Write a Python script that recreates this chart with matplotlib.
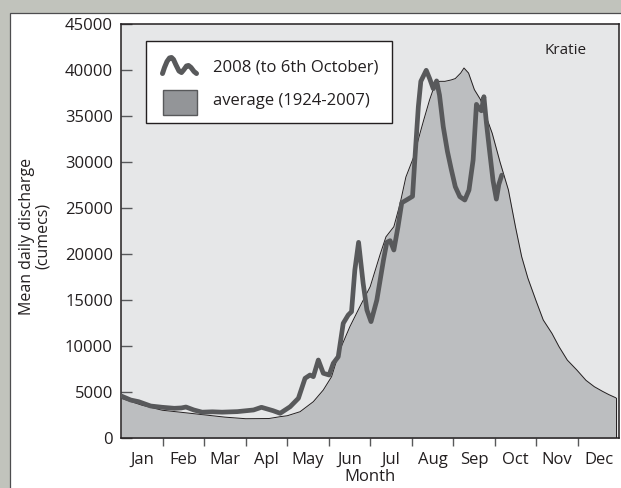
import matplotlib
matplotlib.use("Agg")
import matplotlib.pyplot as plt
from matplotlib.patches import Rectangle
from matplotlib.lines import Line2D

# ---------------- data ----------------
months = ["Jan", "Feb", "Mar", "Apl", "May", "Jun", "Jul", "Aug", "Sep", "Oct", "Nov", "Dec"]
y_ticks = [0, 5000, 10000, 15000, 20000, 25000, 30000, 35000, 40000, 45000]

# average 1924-2007 (x in months from 1 Jan)
avg_x = [0.0, 0.5, 0.99, 1.5, 2.0, 2.5, 3.0, 3.56, 3.83, 4.0, 4.31, 4.63, 4.87, 5.07,
         5.27, 5.51, 5.75, 6.0, 6.24, 6.38, 6.57, 6.72, 6.86, 7.05, 7.2, 7.29, 7.43,
         7.57, 7.67, 7.8, 7.95, 8.05, 8.18, 8.26, 8.37, 8.51, 8.66, 8.8, 8.94, 9.13,
         9.33, 9.5, 9.65, 9.8, 10.0, 10.17, 10.38, 10.55, 10.75, 10.98, 11.2, 11.4,
         11.6, 11.75, 11.92]
avg_v = [4350, 3600, 3050, 2800, 2550, 2300, 2130, 2150, 2350, 2450, 2890, 3980, 5250, 6700,
         9600, 12130, 14300, 16480, 20000, 21900, 23000, 25500, 28400, 30600, 33150, 34600, 36770,
         38600, 38800, 38800, 38950, 39100, 39700, 40250, 39700, 37900, 36800, 34900, 33150, 30000,
         27000, 23000, 19740, 17400, 14900, 12860, 11400, 9960, 8500, 7420, 6300, 5610,
         5100, 4750, 4400]

# 2008 (to 6th October)
y08_x = [0.0, 0.23, 0.42, 0.71, 0.99, 1.28, 1.45, 1.56, 1.75, 1.95, 2.2, 2.43, 2.8, 3.19,
         3.38, 3.66, 3.83, 4.07, 4.27, 4.43, 4.55, 4.63, 4.75, 4.87, 5.01, 5.11, 5.23,
         5.35, 5.47, 5.55, 5.63, 5.72, 5.83, 5.92, 6.02, 6.16, 6.32, 6.4, 6.48, 6.57,
         6.67, 6.76, 6.9, 7.02, 7.08, 7.16, 7.22, 7.35, 7.43, 7.52, 7.6, 7.67, 7.76,
         7.86, 7.95, 8.05, 8.16, 8.28, 8.38, 8.48, 8.56, 8.63, 8.68, 8.74, 8.8, 8.87,
         8.96, 9.04, 9.1, 9.17]
y08_v = [4600, 4160, 3980, 3510, 3370, 3260, 3300, 3400, 3080, 2840, 2880, 2840, 2900, 3080,
         3370, 3000, 2720, 3430, 4350, 6520, 6880, 6700, 8510, 7070, 6880, 8150, 8870,
         12500, 13400, 13760, 18290, 21300, 16850, 13950, 12680, 15030, 19380, 21300, 21480, 20470,
         23000, 25600, 25970, 26300, 30610, 36050, 38800, 40000, 39130, 38000, 38850, 37300, 33880,
         31200, 29300, 27350, 26260, 25900, 26980, 30250, 36300, 35800, 35600, 37130, 34300, 31500,
         28000, 26000, 27600, 28600]

legend_labels = ["2008 (to 6th October)", "average (1924-2007)"]
station = "Kratie"
x_label = "Month"
y_label = "Mean daily discharge\n(cumecs)"

# ---------------- style ----------------
W, H = 621, 488
FONT = "Open Sans"
TXT = "#231f20"
plt.rcParams["font.family"] = [FONT, "DejaVu Sans"]

fig = plt.figure(figsize=(W / 100, H / 100), dpi=100)
fig.patch.set_facecolor("#c1c3bc")

def fx(px):
    return px / W

def fy(py):
    return 1 - py / H

# white panel (behind the axes)
fig.patches.append(Rectangle((fx(10.3), fy(H + 20)), fx(W + 20), (H + 20 - 13.5) / H,
                             transform=fig.transFigure, facecolor="white",
                             edgecolor="#4d4d4f", linewidth=0.9, zorder=-10))

ax_l, ax_r, ax_t, ax_b = 121.2, 619.2, 24.3, 438.3
ax = fig.add_axes([fx(ax_l), fy(ax_b), (ax_r - ax_l) / W, (ax_b - ax_t) / H])
ax.set_zorder(1)
ax.set_facecolor("#e6e7e8")
ax.set_xlim(0, 12)
ax.set_ylim(0, 45000)

ax.fill_between(avg_x, avg_v, 0, color="#bcbec0", linewidth=0, zorder=1)
ax.plot(avg_x, avg_v, color=TXT, linewidth=0.7, zorder=2)
ax.plot([avg_x[-1], avg_x[-1]], [0, avg_v[-1]], color=TXT, linewidth=0.7, zorder=2)
ax.plot(y08_x, y08_v, color="#58595b", linewidth=3.4, solid_capstyle="round",
        solid_joinstyle="round", zorder=3)

for s in ax.spines.values():
    s.set_color(TXT)
    s.set_linewidth(1.1)

ax.set_yticks(y_ticks)
ax.set_yticklabels([str(v) for v in y_ticks])
ax.tick_params(axis="y", direction="in", length=8, width=1.0, color="#58595b",
               pad=6, labelsize=12, labelcolor=TXT)
ax.set_xticks(range(1, 12))
ax.set_xticklabels([])
ax.set_xticks([i + 0.5 for i in range(12)], minor=True)
ax.set_xticklabels(months, minor=True)
ax.tick_params(axis="x", which="major", direction="out", length=6, width=1.0, color="#58595b")
ax.tick_params(axis="x", which="minor", length=0, pad=10, labelsize=12, labelcolor=TXT)

fig.text(fx((ax_l + ax_r) / 2), fy(477), x_label, ha="center", va="center",
         fontsize=12, color=TXT)
fig.text(fx(35), fy(236), y_label, ha="center", va="center", rotation=90,
         fontsize=11.5, color=TXT, linespacing=1.05)
fig.text(fx(566), fy(50), station, ha="center", va="center", fontsize=11, color=TXT)

# legend (drawn in figure pixel space, above the axes)
LZ = 20
fig.patches.append(Rectangle((fx(145.7), fy(123.3)), fx(391.7 - 145.7), (123.3 - 40.7) / H,
                             transform=fig.transFigure, facecolor="white",
                             edgecolor=TXT, linewidth=1.0, zorder=LZ))
sq_px = [162.5, 164.5, 167, 169.5, 171.5, 173.5, 176, 179, 181.5, 184, 186.5, 188.5, 191, 194, 196.5]
sq_py = [73.5, 67.5, 61.5, 58, 57.5, 59.5, 65, 71, 72.5, 69.5, 66, 65.5, 67.5, 71.5, 73.5]
fig.lines.append(Line2D([fx(p) for p in sq_px], [fy(p) for p in sq_py],
                        transform=fig.transFigure, color="#58595b", linewidth=3.6,
                        solid_capstyle="round", solid_joinstyle="round", zorder=LZ + 1))
fig.patches.append(Rectangle((fx(163), fy(115)), fx(196.7 - 163), (115 - 90) / H,
                             transform=fig.transFigure, facecolor="#939598",
                             edgecolor="#58595b", linewidth=1.0, zorder=LZ + 1))
fig.text(fx(213), fy(68), legend_labels[0], ha="left", va="center", fontsize=12,
         color=TXT, zorder=LZ + 2)
fig.text(fx(213), fy(101), legend_labels[1], ha="left", va="center", fontsize=12,
         color=TXT, zorder=LZ + 2)

fig.savefig("out.png", dpi=100, facecolor=fig.get_facecolor())
